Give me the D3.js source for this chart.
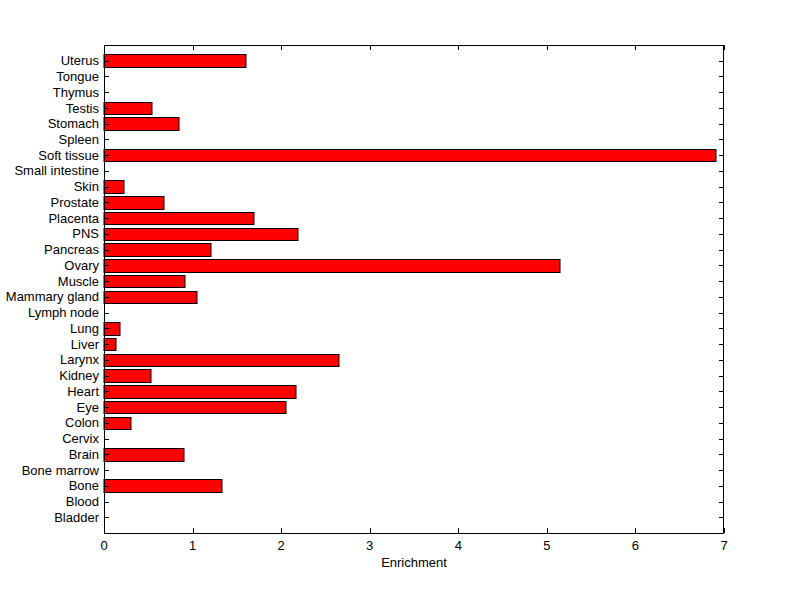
<!DOCTYPE html>
<html><head><meta charset="utf-8">
<script src="https://cdn.jsdelivr.net/npm/d3@7"></script>
<style>body{margin:0;background:#fff}svg{display:block}text{font-family:"Liberation Sans",Arial,sans-serif;font-size:13px;fill:#000}</style>
</head><body><svg id="c" width="800" height="599"></svg>
<script>
const categories = ["Bladder","Blood","Bone","Bone marrow","Brain","Cervix","Colon","Eye","Heart","Kidney","Larynx","Liver","Lung","Lymph node","Mammary gland","Muscle","Ovary","Pancreas","PNS","Placenta","Prostate","Skin","Small intestine","Soft tissue","Spleen","Stomach","Testis","Thymus","Tongue","Uterus"];
const enrichment = [0,0,1.329,0,0.90,0,0.301,2.051,2.164,0.527,2.65,0.139,0.184,0,1.047,0.911,5.152,1.205,2.187,1.69,0.68,0.222,0,6.91,0,0.843,0.538,0,0,1.607];
const xTicks = [0,1,2,3,4,5,6,7];
const xLabel = "Enrichment";

const L=104, R=724, T=45, B=533;
const svg = d3.select("#c");
const x = d3.scaleLinear().domain([0,7]).range([L,R]);
const y = d3.scaleLinear().domain([0,categories.length+1]).range([B,T]);
const bw = 0.8;

// bars
svg.append("g").selectAll("rect").data(categories).join("rect")
  .filter((d,i)=>enrichment[i]>0)
  .attr("x", x(0))
  .attr("y", (d)=>{const i=categories.indexOf(d);return Math.round(y(i+1+bw/2))+0.5;})
  .attr("width", d=>{const i=categories.indexOf(d);return Math.round(x(enrichment[i])-x(0));})
  .attr("height", d=>{const i=categories.indexOf(d);return Math.round(y(i+1-bw/2))-Math.round(y(i+1+bw/2));})
  .attr("fill","#ff0000").attr("stroke","#000").attr("stroke-width",1);

const tl = 5;
const g = svg.append("g").attr("shape-rendering","crispEdges").attr("stroke","#000");
// x ticks top and bottom
xTicks.forEach(t=>{
  const px=Math.round(x(t))+0.5;
  g.append("line").attr("x1",px).attr("x2",px).attr("y1",B).attr("y2",B-tl);
  g.append("line").attr("x1",px).attr("x2",px).attr("y1",T).attr("y2",T+tl);
});
// y ticks left and right
categories.forEach((c,i)=>{
  const py=Math.round(y(i+1))+0.5;
  g.append("line").attr("x1",L).attr("x2",L+tl).attr("y1",py).attr("y2",py);
  g.append("line").attr("x1",R).attr("x2",R-tl).attr("y1",py).attr("y2",py);
});
// frame
g.append("rect").attr("x",L+0.5).attr("y",T+0.5).attr("width",R-L-1).attr("height",B-T).attr("fill","none");

// labels
svg.append("g").selectAll("text").data(categories).join("text")
  .attr("x", L-5).attr("y",(d,i)=>y(i+1)).attr("dy","0.35em")
  .attr("text-anchor","end").text(d=>d);
svg.append("g").selectAll("text").data(xTicks).join("text")
  .attr("x", d=>x(d)).attr("y", B+17).attr("text-anchor","middle").text(d=>d);
svg.append("text").attr("x",(L+R)/2).attr("y",B+34).attr("text-anchor","middle").text(xLabel);
</script></body></html>
